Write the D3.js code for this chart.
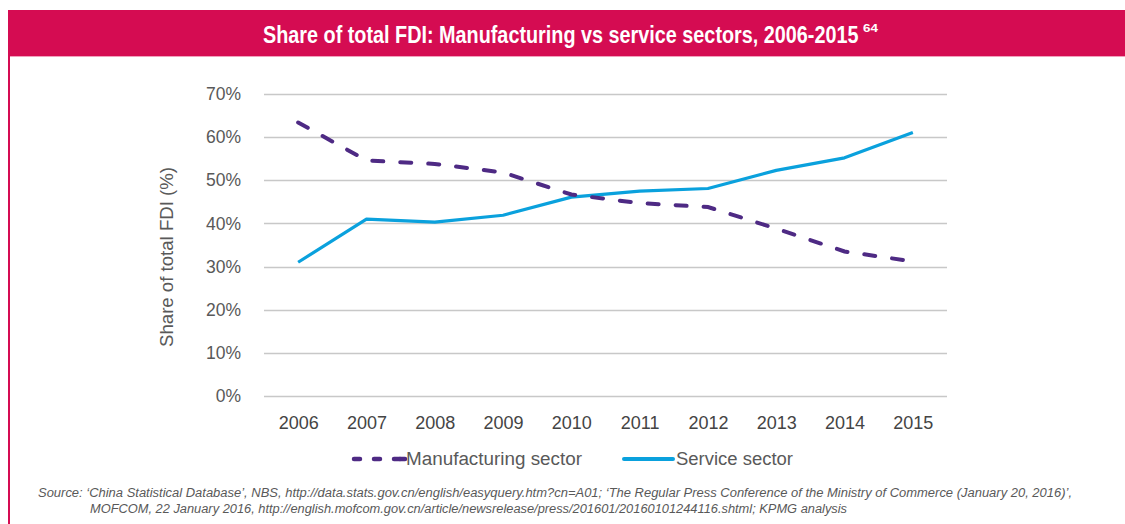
<!DOCTYPE html>
<html><head><meta charset="utf-8">
<script src="https://cdn.jsdelivr.net/npm/d3@7"></script>
<style>
html,body{margin:0;padding:0;background:#fff;}
svg{display:block;}
</style></head>
<body>
<svg id="chart" width="1125" height="524"></svg>
<script>
const years = ["2006","2007","2008","2009","2010","2011","2012","2013","2014","2015"];
const manufacturing = [63.4, 54.6, 53.8, 51.8, 46.7, 44.7, 43.8, 38.8, 33.5, 31.2];
const service = [31.0, 41.0, 40.3, 41.9, 46.1, 47.5, 48.1, 52.3, 55.2, 61.1];
const yTicks = [0, 10, 20, 30, 40, 50, 60, 70];
const seriesNames = ["Manufacturing sector", "Service sector"];
const titleText = "Share of total FDI: Manufacturing vs service sectors, 2006-2015";
const titleSup = "64";
const yLabel = "Share of total FDI (%)";
const sourceLines = [
  "Source: \u2018China Statistical Database\u2019, NBS, http://data.stats.gov.cn/english/easyquery.htm?cn=A01; \u2018The Regular Press Conference of the Ministry of Commerce (January 20, 2016)\u2019,",
  "MOFCOM, 22 January 2016, http://english.mofcom.gov.cn/article/newsrelease/press/201601/20160101244116.shtml; KPMG analysis"
];

const svg = d3.select("#chart");
const red = "#D50C52", purple = "#4E2A84", blue = "#0AA1DD", grey = "#595959";
const font = "Arial, 'Liberation Sans', sans-serif";

// fit a text horizontally by scaling it (keeps its bounding box honest)
function fitText(sel, x, y, width) {
  const w = sel.node().getComputedTextLength();
  sel.attr("x", 0).attr("y", 0).attr("transform", `translate(${x},${y}) scale(${width / w},1)`);
  return sel;
}

// header
svg.append("rect").attr("x", 8).attr("y", 10).attr("width", 1117).attr("height", 46).attr("fill", red);
svg.append("line").attr("x1", 8).attr("x2", 1125).attr("y1", 56.5).attr("y2", 56.5).attr("stroke", "#F2A0BC").attr("stroke-width", 1);
svg.append("rect").attr("x", 8).attr("y", 56).attr("width", 2).attr("height", 468).attr("fill", red);
fitText(svg.append("text").attr("fill", "#fff").attr("font-family", font)
  .attr("font-weight", "bold").attr("font-size", 23).text(titleText), 263, 43, 596);
fitText(svg.append("text").attr("fill", "#fff").attr("font-family", font)
  .attr("font-weight", "bold").attr("font-size", 10).text(titleSup), 863, 32, 15);

// scales
const x = d3.scalePoint().domain(years).range([264, 947]).padding(0.5);
const y = d3.scaleLinear().domain([0, 70]).range([396, 94]);

// grid
svg.append("g").selectAll("line").data(yTicks).join("line")
  .attr("x1", 264).attr("x2", 947)
  .attr("y1", d => Math.round(y(d)) + 0.5).attr("y2", d => Math.round(y(d)) + 0.5)
  .attr("stroke", "#C8C8C8").attr("stroke-width", 1.5);

// y axis labels
const yAxis = svg.append("g").attr("transform", "translate(241,0)")
  .call(d3.axisLeft(y).tickValues(yTicks).tickFormat(d => d + "%").tickSize(0).tickPadding(0));
yAxis.select(".domain").remove();
yAxis.selectAll("text").attr("font-family", font).attr("font-size", 17.5).attr("fill", grey);

// x axis labels
const xAxis = svg.append("g").attr("transform", "translate(0,416)")
  .call(d3.axisBottom(x).tickSize(0).tickPadding(0));
xAxis.select(".domain").remove();
xAxis.selectAll("text").attr("font-family", font).attr("font-size", 18).attr("fill", "#444");

// y label
svg.append("text").attr("transform", "translate(173,257) rotate(-90)").attr("text-anchor", "middle")
  .attr("font-family", font).attr("font-size", 18).attr("fill", grey)
  .attr("textLength", 180).attr("lengthAdjust", "spacingAndGlyphs").text(yLabel);

// lines
const line = d3.line().x((d, i) => x(years[i])).y(d => y(d));
svg.append("path").datum(service).attr("d", line).attr("fill", "none")
  .attr("stroke", blue).attr("stroke-width", 3.2).attr("stroke-linejoin", "round");
svg.append("path").datum(manufacturing).attr("d", line).attr("fill", "none")
  .attr("stroke", purple).attr("stroke-width", 4).attr("stroke-dasharray", "11,17").attr("stroke-linecap", "round");

// legend
const lg = svg.append("g");
lg.append("line").attr("x1", 354).attr("x2", 400).attr("y1", 459).attr("y2", 459)
  .attr("stroke", purple).attr("stroke-width", 4.5).attr("stroke-dasharray", "6,14").attr("stroke-linecap", "round");
lg.append("line").attr("x1", 400).attr("x2", 405).attr("y1", 459).attr("y2", 459)
  .attr("stroke", purple).attr("stroke-width", 4.5).attr("stroke-linecap", "round");
lg.append("text").attr("x", 406).attr("y", 465).attr("font-family", font)
  .attr("font-size", 18).attr("fill", grey).attr("textLength", 176).attr("lengthAdjust", "spacingAndGlyphs").text(seriesNames[0]);
lg.append("line").attr("x1", 624).attr("x2", 673).attr("y1", 459).attr("y2", 459)
  .attr("stroke", blue).attr("stroke-width", 4).attr("stroke-linecap", "round");
lg.append("text").attr("x", 676).attr("y", 465).attr("font-family", font)
  .attr("font-size", 18).attr("fill", grey).attr("textLength", 117).attr("lengthAdjust", "spacingAndGlyphs").text(seriesNames[1]);

// source
svg.append("text").attr("x", 38).attr("y", 497).attr("font-family", font)
  .attr("font-style", "italic").attr("font-size", 12).attr("fill", grey)
  .attr("textLength", 1034).attr("lengthAdjust", "spacingAndGlyphs").text(sourceLines[0]);
svg.append("text").attr("x", 90).attr("y", 513).attr("font-family", font)
  .attr("font-style", "italic").attr("font-size", 12).attr("fill", grey)
  .attr("textLength", 757).attr("lengthAdjust", "spacingAndGlyphs").text(sourceLines[1]);
</script>
</body></html>
